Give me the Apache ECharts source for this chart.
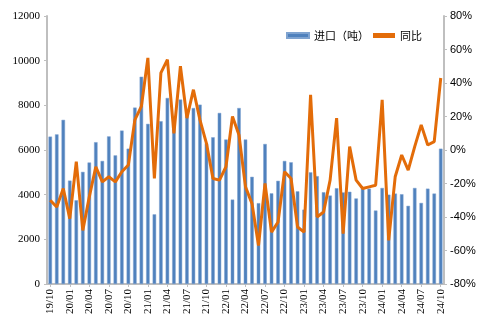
<!DOCTYPE html>
<html>
<head>
<meta charset="utf-8">
<script src="https://cdn.jsdelivr.net/npm/echarts@6/dist/echarts.min.js"></script>
<style>
html,body{margin:0;padding:0;background:#fff;}
#c{width:487px;height:326px;}
</style>
</head>
<body>
<div id="c"></div>
<script>
var categories = [
'19/10','19/11','19/12',
'20/01','20/02','20/03','20/04','20/05','20/06','20/07','20/08','20/09','20/10','20/11','20/12',
'21/01','21/02','21/03','21/04','21/05','21/06','21/07','21/08','21/09','21/10','21/11','21/12',
'22/01','22/02','22/03','22/04','22/05','22/06','22/07','22/08','22/09','22/10','22/11','22/12',
'23/01','23/02','23/03','23/04','23/05','23/06','23/07','23/08','23/09','23/10','23/11','23/12',
'24/01','24/02','24/03','24/04','24/05','24/06','24/07','24/08','24/09','24/10'
];
var importTons = [
6600,6700,7350,
4630,3750,5020,5440,6350,5510,6610,5760,6870,6060,7900,9280,
7170,3120,7290,8330,7200,8260,7800,7880,8030,6300,6570,7660,
6470,3780,7880,6470,4800,3620,6270,4060,4620,5510,5450,4150,
3330,5000,4830,4110,3960,4290,4100,4130,3830,4270,4270,3290,
4300,4000,4050,4020,3500,4300,3630,4270,4050,6060
];
var yoyPct = [
-30,-34,-23,
-41,-7,-48,-28,-10,-19,-16,-19,-13,-9,18,26,
55,-17,46,54,10,50,19,36,18,4,-17,-18,
-10,20,9,-22,-32,-57,-20,-49,-43,-13,-17,-46,
-49,33,-40,-37,-18,19,-50,2,-18,-23,-22,-21,
30,-54,-16,-3,-12,2,15,3,5,43
];
var leftTicks = {min:0, max:12000, interval:2000};
var rightTicks = {min:-80, max:80, interval:20};
var seriesNames = ['进口（吨）','同比'];

var chart = echarts.init(document.getElementById('c'), null, {renderer:'canvas'});
var axisLineStyle = {color:'#bfbfbf', width:2};
chart.setOption({
  animation:false,
  backgroundColor:'#fff',
  grid:{left:47, right:43, top:16, bottom:42},
  legend:{
    left:281, top:25, itemWidth:22, itemHeight:5, itemGap:4,
    textStyle:{fontFamily:'Noto Sans CJK SC', fontSize:11, color:'#000'},
    data:[{name:seriesNames[0], icon:'rect'},{name:seriesNames[1], icon:'rect'}]
  },
  xAxis:{
    type:'category', data:categories, boundaryGap:true,
    axisLine:{lineStyle:axisLineStyle},
    axisTick:{show:true, interval:2, alignWithLabel:true, length:3, lineStyle:{color:'#bfbfbf'}},
    axisLabel:{interval:2, rotate:90, fontFamily:'Liberation Serif', fontSize:11, color:'#000', margin:5}
  },
  yAxis:[
    {type:'value', min:leftTicks.min, max:leftTicks.max, interval:leftTicks.interval,
     axisLine:{show:true, lineStyle:axisLineStyle},
     axisTick:{show:true, length:3, lineStyle:{color:'#bfbfbf'}},
     splitLine:{show:false},
     axisLabel:{formatter:function(v){return String(v);}, fontFamily:'Liberation Serif', fontSize:11, color:'#000', margin:7}},
    {type:'value', min:rightTicks.min, max:rightTicks.max, interval:rightTicks.interval, position:'right',
     axisLine:{show:true, lineStyle:axisLineStyle},
     axisTick:{show:true, length:3, lineStyle:{color:'#bfbfbf'}},
     splitLine:{show:false},
     axisLabel:{formatter:'{value}%', fontFamily:'Liberation Sans', fontSize:11, color:'#000', margin:6}}
  ],
  series:[
    {name:seriesNames[0], type:'bar', yAxisIndex:0, data:importTons, barWidth:3.5,
     itemStyle:{color:'#4F81BD', borderColor:'#7fa3d0', borderWidth:0.5}},
    {name:seriesNames[1], type:'line', yAxisIndex:1, data:yoyPct, symbol:'none', z:5,
     lineStyle:{color:'#E36C09', width:3}, itemStyle:{color:'#E36C09'}}
  ]
});
</script>
</body>
</html>
